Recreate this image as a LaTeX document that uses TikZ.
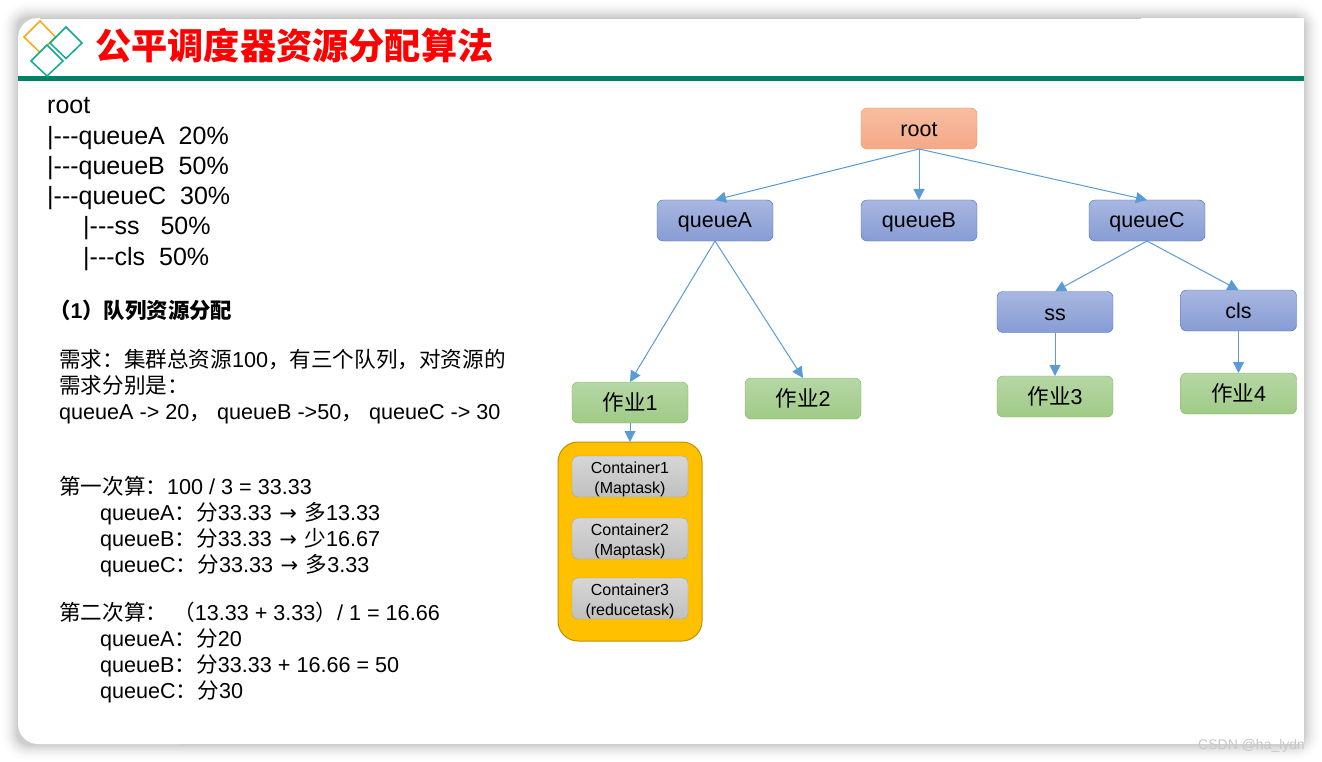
\documentclass[tikz,border=0pt]{standalone}
\usepackage{fontspec}
\setmainfont{Liberation Sans}
\newfontfamily\cjk{Noto Sans CJK SC}
\newfontfamily\arrowfont{DejaVu Sans}
\newcommand{\zh}[1]{{\cjk #1}}
\newcommand{\dn}[2]{\raisebox{-#1pt}[\height][\depth]{#2}}
\newcommand{\toarrow}{{\arrowfont\fontsize{21}{21}\selectfont\hspace{1.5pt}→\hspace{1.5pt}}}
\newcommand{\dashes}{-{}-{}-}
\usetikzlibrary{arrows.meta}
\definecolor{teal1}{RGB}{0,128,105}
\definecolor{teal2}{RGB}{15,170,145}
\definecolor{orange1}{RGB}{247,170,15}
\definecolor{linkblue}{RGB}{91,155,213}
\tikzset{
  x=1pt,y=-1pt,
  box/.style={rounded corners=6,minimum width=116,minimum height=41,inner sep=0,outer sep=0,font=\fontsize{21.5}{21.5}\selectfont,anchor=center},
  rootbox/.style={box,draw={rgb,255:red,240;green,145;blue,85},top color={rgb,255:red,247;green,190;blue,160},bottom color={rgb,255:red,245;green,168;blue,135}},
  bluebox/.style={box,draw={rgb,255:red,68;green,114;blue,196},top color={rgb,255:red,168;green,183;blue,225},bottom color={rgb,255:red,135;green,156;blue,212}},
  greenbox/.style={box,draw={rgb,255:red,125;green,185;blue,90},top color={rgb,255:red,182;green,215;blue,165},bottom color={rgb,255:red,160;green,203;blue,135}},
  greybox/.style={box,draw={rgb,255:red,165;green,165;blue,165},top color={rgb,255:red,214;green,214;blue,214},bottom color={rgb,255:red,192;green,192;blue,192},font=\fontsize{16}{19.5}\selectfont,align=center},
  link/.style={draw=linkblue,line width=1,-{Triangle[length=11,width=11,fill=linkblue]}},
  tree/.style={anchor=base west,inner sep=0,font=\fontsize{25}{25}\selectfont},
  body/.style={anchor=base west,inner sep=0,font=\fontsize{21.6}{21.6}\selectfont},
  diamond1/.style={line width=1.5,line join=miter,fill=white},
}
\begin{document}
\begin{tikzpicture}
\useasboundingbox (0,0) rectangle (1322,762);
\fill[white] (0,0) rectangle (1322,762);
% soft shadow
\foreach \d in {17,16,...,1}{
  \pgfmathsetmacro{\op}{0.02*(1-\d/18)+0.001}
  \fill[black,opacity=\op,rounded corners=10+\d] (18-\d,18-\d) rectangle (1304+\d,744+\d);
}
% card
\fill[white,rounded corners=20] (18,18) rectangle (200,744);
\fill[white] (100,18) rectangle (1304,744);
\draw[black!22,line width=0.8] (40,18.4) -- (1141,18.4);
% header
\node[anchor=base west,inner sep=0,text=red,font=\fontsize{36.2}{36.2}\selectfont\cjk\bfseries] (title) at (95,60) {公平调度器资源分配算法};
\fill[teal1] (18,76) rectangle (1304,81);
\draw[diamond1,draw=orange1] (40,21) -- (55.5,37) -- (40,52.5) -- (24,37) -- cycle;
\draw[diamond1,draw=teal2] (66,27) -- (82,43) -- (66,58.5) -- (50,43) -- cycle;
\draw[diamond1,draw=teal2] (47,45) -- (63,61) -- (47,76) -- (31,61) -- cycle;
% left tree
\node[tree] (t1) at (47,113.5) {root};
\node[tree] (t2) at (47,144.5) {|\dashes queueA\ \ 20\%};
\node[tree] (t3) at (47,174.5) {|\dashes queueB\ \ 50\%};
\node[tree] (t4) at (47,204.5) {|\dashes queueC\ \ 30\%};
\node[tree] (t5) at (83,234) {|\dashes ss\ \ \ 50\%};
\node[tree] (t6) at (83,265) {|\dashes cls\ \ 50\%};
% left text
\node[body,font=\fontsize{21.4}{21.4}\selectfont\cjk\bfseries] (h1) at (49,318) {（{\rmfamily 1}）队列资源分配};
\node[body] (b1) at (59,367) {\zh{需求：集群总资源}100\zh{，有三个队列，对资源的}};
\node[body] (b2) at (59,393) {\zh{需求分别是：}};
\node[body] (b3) at (59,419) {queueA -> 20\zh{，}\ queueB ->50\zh{，}\ queueC -> 30};
\node[body] (c1) at (59,494) {\zh{第一次算：}100 / 3 = 33.33};
\node[body] (c2) at (100,520) {queueA\zh{：分}33.33 \toarrow\ \zh{多}13.33};
\node[body] (c3) at (100,546) {queueB\zh{：分}33.33 \toarrow\ \zh{少}16.67};
\node[body] (c4) at (100,572) {queueC\zh{：分}33.33 \toarrow\ \zh{多}3.33};
\node[body] (d1) at (59,620) {\zh{第二次算：}\ \zh{（}13.33 + 3.33\zh{）}/ 1 = 16.66};
\node[body] (d2) at (100,646) {queueA\zh{：分}20};
\node[body] (d3) at (100,672) {queueB\zh{：分}33.33 + 16.66 = 50};
\node[body] (d4) at (100,698) {queueC\zh{：分}30};
% diagram
\node[rootbox] (root) at (919,128.5) {\dn{1}{root}};
\node[bluebox] (qa) at (715,220.5) {\dn{2}{queueA}};
\node[bluebox] (qb) at (919,220.5) {\dn{2}{queueB}};
\node[bluebox] (qc) at (1147,220.5) {\dn{2}{queueC}};
\node[bluebox] (ss) at (1055,312) {\dn{3}{ss}};
\node[bluebox] (cls) at (1238.5,310.5) {cls};
\node[greenbox] (j1) at (630,402.5) {\zh{作业}1};
\node[greenbox] (j2) at (803,398.5) {\zh{作业}2};
\node[greenbox] (j3) at (1055,396.5) {\zh{作业}3};
\node[greenbox] (j4) at (1238.5,393.5) {\zh{作业}4};
\node[box,minimum width=144,minimum height=199,rounded corners=20,line width=1,draw={rgb,255:red,190;green,145;blue,0},fill={rgb,255:red,255;green,192;blue,0}] (pool) at (630,541.5) {};
\node[greybox] (k1) at (630,476.5) {\dn{3}{Container1}\\\dn{3}{(Maptask)}};
\node[greybox] (k2) at (630,538.5) {\dn{3}{Container2}\\\dn{3}{(Maptask)}};
\node[greybox] (k3) at (630,598.5) {\dn{3}{Container3}\\\dn{3}{(reducetask)}};
\draw[link] (root.south) -- (qa.north);
\draw[link] (root.south) -- (qb.north);
\draw[link] (root.south) -- (qc.north);
\draw[link] (qa.south) -- (j1.north);
\draw[link] (qa.south) -- (j2.north);
\draw[link] (qc.south) -- (ss.north);
\draw[link] (qc.south) -- (cls.north);
\draw[link] (ss.south) -- (j3.north);
\draw[link] (cls.south) -- (j4.north);
\draw[link] (j1.south) -- (pool.north);
% watermark
\begin{scope}
\clip (1190,730) rectangle (1304,760);
\node[anchor=base west,inner sep=0,text=black!22,font=\fontsize{14}{14}\selectfont] (wm) at (1198,749) {CSDN @ha\_lydms};
\end{scope}
\end{tikzpicture}
\end{document}
